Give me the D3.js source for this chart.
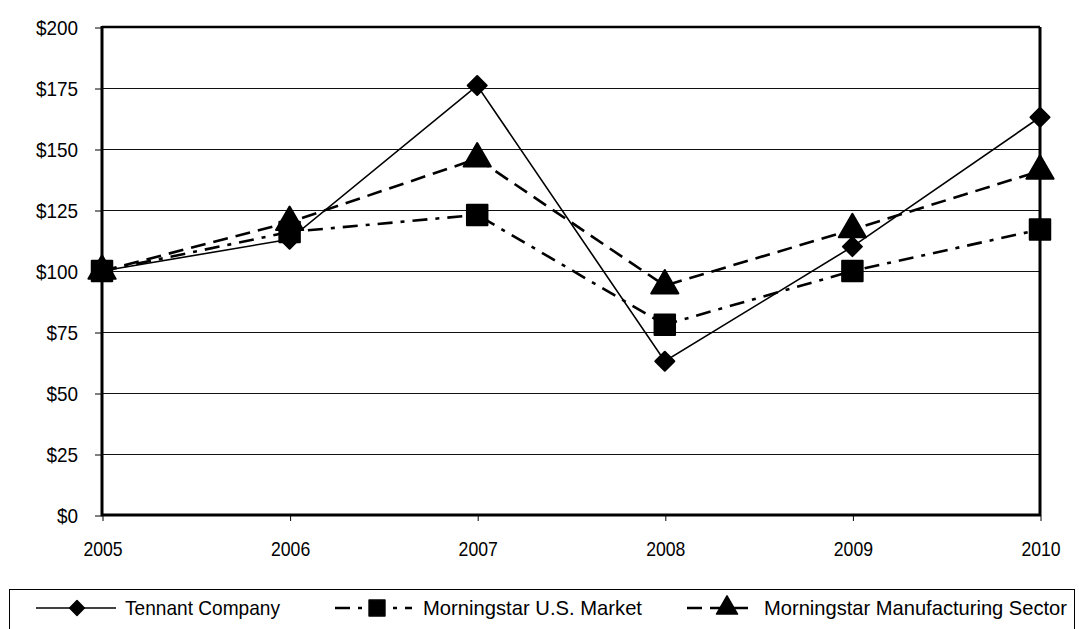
<!DOCTYPE html>
<html>
<head>
<meta charset="utf-8">
<script src="https://cdn.jsdelivr.net/npm/d3@7.9.0/dist/d3.min.js"></script>
<style>
  html, body { margin: 0; padding: 0; background: #fff; }
  svg { display: block; }
  text { font-family: "Liberation Sans Narrow", "Arial Narrow", "Liberation Sans", Arial, sans-serif; fill: #000; }
</style>
</head>
<body>
<svg id="chart" width="1079" height="629"></svg>
<script>
// chart data
const years = [2005, 2006, 2007, 2008, 2009, 2010];
const yTicks = [0, 25, 50, 75, 100, 125, 150, 175, 200];
const tennant = [100, 113, 176, 63, 110, 163];
const usMarket = [100, 116, 123, 78, 100, 117];
const manufacturing = [100, 120, 146, 94, 117, 141];
const seriesNames = ['Tennant Company', 'Morningstar U.S. Market', 'Morningstar Manufacturing Sector'];

const svg = d3.select('#chart');

const plotLeft = 102, plotRight = 1040, plotTop = 27, plotBottom = 515;

const x = d3.scaleLinear().domain([2005, 2010]).range([plotLeft, plotRight]);
const y = d3.scaleLinear().domain([0, 200]).range([plotBottom, plotTop]);

// narrow look: squeeze the glyphs of a text horizontally
function narrow(sel, factor) {
  sel.each(function () {
    const w = this.getComputedTextLength();
    d3.select(this).attr('textLength', w * factor).attr('lengthAdjust', 'spacingAndGlyphs');
  });
}

// series styling
const series = [
  { name: seriesNames[0], values: tennant, dash: null, width: 1.6,
    symbol: d3.symbolDiamond2, size: 230 },
  { name: seriesNames[1], values: usMarket, dash: '15,8,4,8', width: 2.6,
    symbol: d3.symbolSquare, size: 420 },
  { name: seriesNames[2], values: manufacturing, dash: '15,8', width: 2.6,
    symbol: d3.symbolTriangle, size: 320 }
];

// gridlines
svg.append('g')
  .selectAll('line')
  .data(yTicks.filter(d => d > 0 && d < 200))
  .join('line')
  .attr('x1', plotLeft).attr('x2', plotRight)
  .attr('y1', d => Math.round(y(d)) + 0.5).attr('y2', d => Math.round(y(d)) + 0.5)
  .attr('stroke', '#111')
  .attr('stroke-width', 1);

// y axis
const yAxis = svg.append('g')
  .attr('transform', `translate(${plotLeft},0.5)`)
  .call(d3.axisLeft(y).tickValues(yTicks).tickFormat(d => '$' + d).tickSize(7).tickPadding(17));
yAxis.select('.domain').remove();
yAxis.selectAll('.tick line').attr('stroke', '#000').attr('stroke-width', 1);
yAxis.selectAll('.tick text').attr('font-size', 21).attr('font-family', null).call(narrow, 0.9);

// x axis
const xAxis = svg.append('g')
  .attr('transform', `translate(0.5,${plotBottom})`)
  .call(d3.axisBottom(x).tickValues(years).tickFormat(d3.format('d')).tickSize(6).tickPadding(20));
xAxis.select('.domain').remove();
xAxis.selectAll('.tick line').attr('stroke', '#000').attr('stroke-width', 1);
xAxis.selectAll('.tick text').attr('font-size', 21).attr('font-family', null).call(narrow, 0.84);

// plot frame
svg.append('line').attr('x1', plotLeft).attr('x2', plotRight).attr('y1', plotTop).attr('y2', plotTop)
  .attr('stroke', '#000').attr('stroke-width', 2.5);
svg.append('line').attr('x1', plotRight).attr('x2', plotRight).attr('y1', plotTop).attr('y2', plotBottom)
  .attr('stroke', '#000').attr('stroke-width', 3);
svg.append('line').attr('x1', plotLeft).attr('x2', plotLeft).attr('y1', plotTop - 1).attr('y2', plotBottom + 1)
  .attr('stroke', '#000').attr('stroke-width', 3);
svg.append('line').attr('x1', plotLeft - 1).attr('x2', plotRight + 1).attr('y1', plotBottom).attr('y2', plotBottom)
  .attr('stroke', '#000').attr('stroke-width', 3);

const line = d3.line()
  .x((d, i) => x(years[i]))
  .y(d => y(d));

// lines drawn first, markers on top
series.forEach(s => {
  svg.append('path')
    .datum(s.values)
    .attr('d', line)
    .attr('fill', 'none')
    .attr('stroke', '#000')
    .attr('stroke-width', s.width)
    .attr('stroke-dasharray', s.dash);
});

series.forEach(s => {
  const sym = d3.symbol().type(s.symbol).size(s.size);
  svg.append('g')
    .selectAll('path')
    .data(s.values)
    .join('path')
    .attr('transform', (d, i) => `translate(${x(years[i])},${y(d)})`)
    .attr('d', sym)
    .attr('fill', '#000')
    .attr('stroke', '#000')
    .attr('stroke-width', 2)
    .attr('stroke-linejoin', 'round');
});

// legend
const legend = svg.append('g');
legend.append('rect')
  .attr('x', 9.5).attr('y', 589.5)
  .attr('width', 1065).attr('height', 60)
  .attr('fill', 'none').attr('stroke', '#000').attr('stroke-width', 1);

const legendItems = [
  { x1: 36, x2: 116, mark: 77, tx: 125, w: 155 },
  { x1: 335, x2: 412, mark: 377, tx: 423, w: 219 },
  { x1: 687, x2: 750, mark: 727, tx: 764, w: 303 }
];
const ly = 608;

series.forEach((s, i) => {
  const it = legendItems[i];
  legend.append('line')
    .attr('x1', it.x1).attr('x2', it.x2)
    .attr('y1', ly).attr('y2', ly)
    .attr('stroke', '#000')
    .attr('stroke-width', s.width)
    .attr('stroke-dasharray', s.dash);
  legend.append('path')
    .attr('transform', `translate(${it.mark},${ly})`)
    .attr('d', d3.symbol().type(s.symbol).size(s.size * 0.6))
    .attr('fill', '#000')
    .attr('stroke', '#000')
    .attr('stroke-width', 1.5)
    .attr('stroke-linejoin', 'round');
  legend.append('text')
    .attr('x', it.tx).attr('y', ly)
    .attr('dy', '0.35em')
    .attr('font-size', 21)
    .attr('textLength', it.w)
    .attr('lengthAdjust', 'spacingAndGlyphs')
    .text(s.name);
});
</script>
</body>
</html>
